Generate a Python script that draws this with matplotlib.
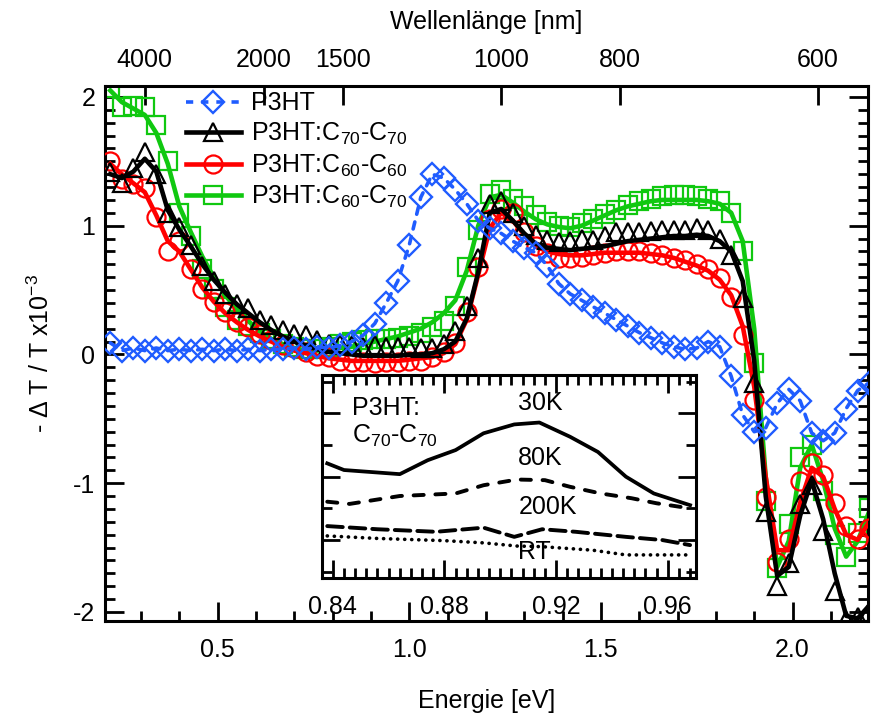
import numpy as np
import matplotlib
matplotlib.use('Agg')
import matplotlib.pyplot as plt
from matplotlib.lines import Line2D
from matplotlib.ticker import MultipleLocator, FixedLocator, NullLocator

plt.rcParams['font.family'] = ['Liberation Sans', 'DejaVu Sans']
plt.rcParams['mathtext.fontset'] = 'custom'
plt.rcParams['mathtext.rm'] = 'Liberation Sans'
plt.rcParams['mathtext.it'] = 'Liberation Sans:italic'
plt.rcParams['mathtext.bf'] = 'Liberation Sans:bold'
plt.rcParams['mathtext.default'] = 'regular'
plt.rcParams['axes.unicode_minus'] = False

# ---------------- data (energy in eV, signal in 1e-3) ----------------
energy = [0.22, 0.25, 0.28, 0.31, 0.34, 0.37, 0.40, 0.43, 0.46, 0.49,
          0.52, 0.55, 0.58, 0.61, 0.64, 0.67, 0.70, 0.73, 0.76, 0.79,
          0.82, 0.85, 0.88, 0.91, 0.94, 0.97, 1.00, 1.03, 1.06, 1.09,
          1.12, 1.15, 1.18, 1.21, 1.24, 1.27, 1.30, 1.33, 1.36, 1.39,
          1.42, 1.45, 1.48, 1.51, 1.54, 1.57, 1.60, 1.63, 1.66, 1.69,
          1.72, 1.75, 1.78, 1.81, 1.84, 1.87, 1.90, 1.93, 1.96, 1.99,
          2.02, 2.05, 2.08, 2.11, 2.14, 2.17, 2.20]

p3ht = [0.09, 0.03, 0.05, 0.03, 0.05, 0.03, 0.04, 0.03, 0.04, 0.03,
        0.04, 0.03, 0.04, 0.03, 0.04, 0.04, 0.05, 0.04, 0.06, 0.05,
        0.07, 0.10, 0.15, 0.24, 0.40, 0.57, 0.85, 1.22, 1.40, 1.37,
        1.28, 1.17, 1.04, 0.98, 0.94, 0.88, 0.83, 0.79, 0.69, 0.55,
        0.47, 0.42, 0.37, 0.32, 0.27, 0.22, 0.17, 0.13, 0.09, 0.06,
        0.04, 0.05, 0.10, 0.06, -0.17, -0.47, -0.60, -0.57, -0.38, -0.27,
        -0.36, -0.61, -0.67, -0.61, -0.42, -0.28, -0.22]

c70c70_pts = [1.42, 1.33, 1.45, 1.57, 1.40, 1.10, 0.99, 0.85, 0.69, 0.57,
              0.47, 0.39, 0.36, 0.27, 0.23, 0.19, 0.16, 0.15, 0.11, 0.08,
              0.08, 0.07, 0.06, 0.07, 0.06, 0.06, 0.06, 0.05, 0.05, 0.08,
              0.18, 0.38, 0.75, 1.17, 1.19, 1.10, 1.00, 0.93, 0.89, 0.87,
              0.88, 0.90, 0.89, 0.92, 0.95, 0.95, 0.95, 0.96, 0.97, 0.97,
              0.97, 0.98, 0.97, 0.90, 0.77, 0.44, -0.22, -1.22, -1.80, -1.62,
              -1.16, -1.01, -1.37, -1.84, -2.06, -2.04, -2.00]
c70c70_fit = [1.40, 1.37, 1.42, 1.52, 1.42, 1.12, 0.97, 0.84, 0.70, 0.58,
              0.48, 0.39, 0.32, 0.25, 0.19, 0.14, 0.10, 0.07, 0.04, 0.02,
              0.01, 0.00, -0.01, -0.01, -0.01, -0.01, 0.00, 0.00, 0.01, 0.04,
              0.10, 0.28, 0.64, 1.10, 1.13, 1.04, 0.94, 0.86, 0.83, 0.82,
              0.81, 0.82, 0.83, 0.84, 0.86, 0.88, 0.89, 0.90, 0.91, 0.92,
              0.92, 0.93, 0.92, 0.88, 0.80, 0.57, -0.05, -1.10, -1.72, -1.65,
              -1.25, -0.98, -1.28, -1.70, -2.03, -2.05, -1.95]

c60c60_pts = [1.50, 1.36, 1.32, 1.29, 1.07, 0.80, 0.88, 0.66, 0.51, 0.41,
              0.33, 0.25, 0.21, 0.16, 0.11, 0.07, 0.05, 0.02, -0.01, -0.02,
              -0.05, -0.06, -0.06, -0.07, -0.06, -0.06, -0.05, -0.05, -0.02, 0.02,
              0.09, 0.33, 0.68, 1.05, 1.13, 1.10, 0.95, 0.84, 0.79, 0.75,
              0.75, 0.76, 0.77, 0.79, 0.80, 0.80, 0.80, 0.79, 0.77, 0.75,
              0.73, 0.70, 0.66, 0.59, 0.45, 0.15, -0.35, -1.11, -1.61, -1.43,
              -0.98, -0.84, -0.94, -1.15, -1.33, -1.43, -1.35]
c60c60_fit = [1.48, 1.40, 1.33, 1.26, 1.08, 0.88, 0.80, 0.66, 0.52, 0.41,
              0.32, 0.25, 0.19, 0.14, 0.10, 0.06, 0.03, 0.01, -0.01, -0.03,
              -0.04, -0.05, -0.05, -0.05, -0.05, -0.05, -0.04, -0.03, -0.02, 0.01,
              0.08, 0.27, 0.62, 0.98, 1.10, 1.04, 0.93, 0.84, 0.80, 0.78,
              0.77, 0.77, 0.78, 0.79, 0.79, 0.79, 0.79, 0.78, 0.77, 0.75,
              0.72, 0.69, 0.65, 0.58, 0.46, 0.22, -0.25, -0.95, -1.52, -1.52,
              -1.15, -0.88, -0.95, -1.20, -1.40, -1.44, -1.30]

c60c70_pts = [2.07, 1.92, 1.93, 1.92, 1.78, 1.50, 1.10, 0.92, 0.66, 0.51,
              0.37, 0.27, 0.22, 0.17, 0.12, 0.08, 0.06, 0.04, 0.04, 0.06,
              0.08, 0.10, 0.11, 0.12, 0.12, 0.13, 0.14, 0.17, 0.21, 0.26,
              0.38, 0.68, 0.97, 1.25, 1.28, 1.21, 1.15, 1.08, 1.03, 1.00,
              0.99, 1.02, 1.05, 1.09, 1.12, 1.16, 1.19, 1.21, 1.23, 1.24,
              1.24, 1.23, 1.21, 1.19, 1.10, 0.80, -0.07, -1.14, -1.66, -1.32,
              -0.80, -0.70, -1.06, -1.40, -1.57, -1.39, -1.19]
c60c70_fit = [2.05, 1.96, 1.91, 1.86, 1.72, 1.48, 1.15, 0.95, 0.76, 0.60,
              0.46, 0.35, 0.26, 0.18, 0.12, 0.08, 0.05, 0.03, 0.03, 0.04,
              0.05, 0.06, 0.08, 0.10, 0.12, 0.14, 0.17, 0.20, 0.25, 0.32,
              0.42, 0.65, 1.00, 1.22, 1.24, 1.18, 1.11, 1.05, 1.01, 0.99,
              0.98, 1.00, 1.04, 1.08, 1.12, 1.15, 1.17, 1.19, 1.20, 1.20,
              1.20, 1.20, 1.19, 1.17, 1.10, 0.88, 0.20, -0.95, -1.65, -1.45,
              -0.88, -0.70, -0.98, -1.35, -1.57, -1.45, -1.22]

wavelength_ticks = [4000, 2000, 1500, 1000, 800, 600]

# inset: temperature dependence (arb. units)
inset_e_30k = [0.838, 0.844, 0.864, 0.874, 0.884, 0.894, 0.905, 0.914, 0.925, 0.935, 0.945, 0.955, 0.968]
inset_30k = [3.42, 3.21, 3.08, 3.52, 3.84, 4.37, 4.65, 4.71, 4.26, 3.78, 3.00, 2.47, 2.10]
inset_e_80k = [0.838, 0.846, 0.864, 0.884, 0.894, 0.906, 0.916, 0.925, 0.936, 0.947, 0.956, 0.968]
inset_80k = [2.21, 2.14, 2.39, 2.47, 2.73, 2.91, 2.89, 2.68, 2.47, 2.32, 2.16, 2.00]
inset_e_200k = [0.838, 0.856, 0.877, 0.894, 0.905, 0.915, 0.927, 0.945, 0.958, 0.968]
inset_200k = [1.44, 1.34, 1.26, 1.39, 1.10, 1.34, 1.26, 1.10, 1.00, 0.84]
inset_e_rt = [0.838, 0.856, 0.880, 0.894, 0.906, 0.915, 0.933, 0.945, 0.968]
inset_rt = [1.13, 1.05, 0.98, 0.91, 0.81, 0.79, 0.68, 0.53, 0.53]

# ---------------- styling ----------------
BLUE = '#1f5cff'
RED = '#ff0000'
GREEN = '#10c810'
FS = 18

fig = plt.figure(figsize=(8.71, 7.22), dpi=100)
ax = fig.add_axes([0.1205, 0.1399, 0.8761, 0.7410])

mk = dict(mfc='none', mew=1.6, ls='none')
# green
ax.plot(energy, c60c70_pts, marker='s', ms=12.5, mec=GREEN, zorder=2, **mk)
ax.plot(energy, c60c70_fit, color=GREEN, lw=3.3, zorder=2)
# red
ax.plot(energy, c60c60_pts, marker='o', ms=13, mec=RED, zorder=3, **mk)
ax.plot(energy, c60c60_fit, color=RED, lw=3.3, zorder=3)
# black
ax.plot(energy, c70c70_pts, marker='^', ms=13, mec='black', zorder=4, **mk)
ax.plot(energy, c70c70_fit, color='black', lw=3.3, zorder=4)
# blue
ax.plot(energy, p3ht, color=BLUE, lw=2.6, ls=(0, (2.0, 2.2)), dash_capstyle='round',
        marker='D', ms=11, mfc='none', mec=BLUE, mew=1.7, zorder=5)

ax.set_xlim(0.206, 2.197)
ax.set_ylim(-2.07, 2.085)
ax.xaxis.set_major_locator(FixedLocator([0.5, 1.0, 1.5, 2.0]))
ax.xaxis.set_minor_locator(MultipleLocator(0.1))
ax.yaxis.set_major_locator(MultipleLocator(1))
ax.yaxis.set_minor_locator(MultipleLocator(0.1))
ax.set_xticklabels(['0.5', '1.0', '1.5', '2.0'])

for s in ax.spines.values():
    s.set_linewidth(2.2)
ax.tick_params(which='major', direction='in', length=13.5, width=2, labelsize=FS)
ax.tick_params(which='minor', direction='in', length=7, width=2)
ax.tick_params(which='both', top=False, right=True)
ax.tick_params(axis='x', pad=12)
ax.tick_params(axis='y', pad=7)

ax.set_xlabel('Energie [eV]', fontsize=FS, labelpad=20)
ax.set_ylabel('- \u0394 T / T x10$^{-3}$', fontsize=FS, labelpad=14)

def e2nm(e):
    e = np.asarray(e, dtype=float)
    with np.errstate(divide='ignore', invalid='ignore'):
        return 1239.84 / e

secax = ax.secondary_xaxis('top', functions=(e2nm, e2nm))
secax.xaxis.set_major_locator(FixedLocator(wavelength_ticks))
secax.xaxis.set_minor_locator(NullLocator())
secax.tick_params(which='major', direction='in', length=13.5, width=2, labelsize=FS, pad=10)
secax.set_xlabel('Wellenlänge [nm]', fontsize=FS, labelpad=14)

# legend
handles = [
    Line2D([], [], color=BLUE, lw=2.6, ls=(0, (2.0, 2.2)), marker='D', ms=11, mfc='none', mec=BLUE, mew=1.7),
    Line2D([], [], color='black', lw=3.3, marker='^', ms=13, mfc='none', mec='black', mew=1.6),
    Line2D([], [], color=RED, lw=3.3, marker='o', ms=13, mfc='none', mec=RED, mew=1.6),
    Line2D([], [], color=GREEN, lw=3.3, marker='s', ms=12.5, mfc='none', mec=GREEN, mew=1.6),
]
labels = ['P3HT', 'P3HT:C$_{70}$-C$_{70}$', 'P3HT:C$_{60}$-C$_{60}$', 'P3HT:C$_{60}$-C$_{70}$']
ax.legend(handles, labels, loc='upper left', bbox_to_anchor=(0.106, 0.99), frameon=False,
          fontsize=FS, handlelength=2.2, handletextpad=0.4, labelspacing=0.22,
          borderpad=0, borderaxespad=0, numpoints=1)

# ---------------- inset ----------------
ins = fig.add_axes([0.3693, 0.1994, 0.4294, 0.2812])
ins.set_facecolor('white')
ins.plot(inset_e_30k, inset_30k, color='black', lw=2.7)
ins.plot(inset_e_80k, inset_80k, color='black', lw=2.8, ls=(0, (2.6, 3.0)), dash_capstyle='round')
ins.plot(inset_e_200k, inset_200k, color='black', lw=2.8, ls=(0, (4.0, 1.8)), dash_capstyle='round')
ins.plot(inset_e_rt, inset_rt, color='black', lw=2.6, ls=(0, (0.05, 1.9)), dash_capstyle='round')
ins.set_xlim(0.836, 0.970)
ins.set_ylim(-0.2, 6.21)
ins.xaxis.set_major_locator(FixedLocator([0.84, 0.88, 0.92, 0.96]))
ins.set_xticklabels(['0.84', '0.88', '0.92', '0.96'])
ins.xaxis.set_minor_locator(MultipleLocator(0.004))
ins.yaxis.set_major_locator(FixedLocator([1, 3, 5]))
ins.yaxis.set_minor_locator(FixedLocator([0, 2, 4, 6]))
ins.set_yticklabels([])
for s in ins.spines.values():
    s.set_linewidth(2.2)
ins.tick_params(which='major', direction='in', length=13, width=2, labelsize=FS, pad=12)
ins.tick_params(which='minor', direction='in', length=7, width=2)
ins.tick_params(which='both', top=True, right=True)

ins.text(0.081, 0.803, 'P3HT:', transform=ins.transAxes, fontsize=FS, ha='left', va='baseline')
ins.text(0.081, 0.665, 'C$_{70}$-C$_{70}$', transform=ins.transAxes, fontsize=FS, ha='left', va='baseline')
ins.text(0.9142, 5.32, '30K', fontsize=FS, ha='center', va='center')
ins.text(0.9142, 3.59, '80K', fontsize=FS, ha='center', va='center')
ins.text(0.917, 2.04, '200K', fontsize=FS, ha='center', va='center')
ins.text(0.9123, 0.62, 'RT', fontsize=FS, ha='center', va='center')

fig.savefig('out.png', dpi=100)
